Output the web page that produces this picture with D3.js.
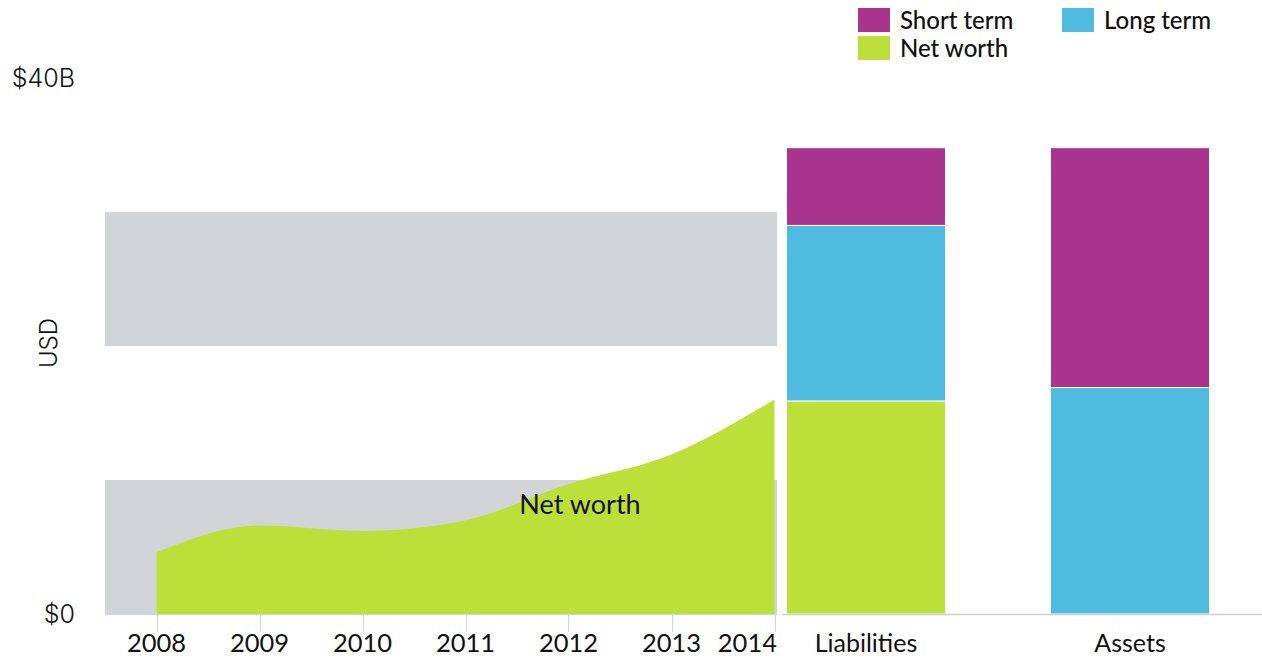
<!DOCTYPE html>
<html>
<head>
<meta charset="utf-8">
<script src="https://cdn.jsdelivr.net/npm/d3@7"></script>
<style>
  html, body { margin: 0; padding: 0; background: #ffffff; }
  svg { display: block; font-family: "Lato", "Noto Sans", sans-serif; }
</style>
</head>
<body>
<svg id="chart" width="1262" height="661"></svg>
<script>
// ---------- data ----------
const years = [2008, 2009, 2010, 2011, 2012, 2013, 2014];
const netWorthHistory = [4.6, 6.6, 6.2, 7.0, 9.7, 11.9, 16.0];
const bandRanges = [[0, 10], [20, 30]];
const barCategories = ["Liabilities", "Assets"];
const seriesNames = ["Net worth", "Long term", "Short term"];
const liabilitiesValues = [15.9, 13.1, 5.8];   // net worth, long term, short term
const assetsValues = [0, 16.9, 17.9];          // net worth, long term, short term
const yTicks = [0, 40];
const yTickLabels = ["$0", "$40B"];
const legendItems = ["Short term", "Long term", "Net worth"];

// ---------- styles ----------
const colors = { "Short term": "#a9348e", "Long term": "#4fbbdf", "Net worth": "#bddf3a" };
const bandColor = "#d1d5d8";
const axisColor = "#ccd6eb";

const svg = d3.select("#chart");

const y = d3.scaleLinear().domain([0, 40]).range([614, 78]);

// left area chart
const xYear = d3.scaleLinear().domain([2008, 2014]).range([156.5, 774.5]);
const leftX0 = 105, leftX1 = 777;

// plot bands
svg.append("g").selectAll("rect").data(bandRanges).join("rect")
  .attr("x", leftX0).attr("width", leftX1 - leftX0)
  .attr("y", d => y(d[1])).attr("height", d => y(d[0]) - y(d[1]))
  .attr("fill", bandColor);

// area
const area = d3.area()
  .x((d, i) => xYear(years[i]))
  .y0(y(0))
  .y1(d => y(d))
  .curve(d3.curveMonotoneX);
svg.append("path").datum(netWorthHistory)
  .attr("d", area).attr("fill", colors["Net worth"]);

// x axis for years
const xAxisG = svg.append("g").attr("transform", `translate(0,${y(0)})`);
xAxisG.append("line").attr("x1", leftX0).attr("x2", leftX1).attr("y1", 0.5).attr("y2", 0.5)
  .attr("stroke", axisColor).attr("stroke-width", 1);
xAxisG.selectAll("line.tick").data(years).join("line").attr("class", "tick")
  .attr("x1", d => Math.round(xYear(d)) + 0.5).attr("x2", d => Math.round(xYear(d)) + 0.5)
  .attr("y1", 0).attr("y2", 18).attr("stroke", axisColor);
const lastYear = years[years.length - 1];
xAxisG.selectAll("text").data(years).join("text")
  .attr("x", d => d === lastYear ? leftX1 : xYear(d)).attr("y", 38)
  .attr("text-anchor", d => d === lastYear ? "end" : "middle")
  .attr("font-size", 25.5).attr("fill", "#111")
  .text(d => d);

// Net worth label
svg.append("text").attr("x", 580).attr("y", 514).attr("text-anchor", "middle")
  .attr("font-size", 27).attr("fill", "#111").text("Net worth");

// y axis labels
svg.append("g").selectAll("text").data(yTicks).join("text")
  .attr("x", 75).attr("y", d => y(d) + 9)
  .attr("text-anchor", "end").attr("font-size", 25).attr("fill", "#111")
  .attr("font-family", "Inter, sans-serif").attr("font-weight", 300)
  .text((d, i) => yTickLabels[i]);

svg.append("text").attr("transform", "translate(57,343) rotate(-90)")
  .attr("text-anchor", "middle").attr("font-size", 24).attr("fill", "#111")
  .attr("font-family", "Inter, sans-serif").attr("font-weight", 300).text("USD");

// right bar chart
const xCat = d3.scaleBand().domain(barCategories).range([734, 1262]).paddingInner(0.398).paddingOuter(0.199);
const barData = [liabilitiesValues, assetsValues];
const stacked = barCategories.map((c, ci) => {
  let acc = 0;
  return seriesNames.map((s, si) => {
    const v = barData[ci][si];
    const seg = { cat: c, name: s, y0: acc, y1: acc + v };
    acc += v;
    return seg;
  }).filter(d => d.y1 > d.y0);
}).flat();

const barW = 159;
svg.append("g").selectAll("rect").data(stacked).join("rect")
  .attr("x", d => xCat(d.cat) + xCat.bandwidth() / 2 - barW / 2)
  .attr("width", barW)
  .attr("y", d => y(d.y1)).attr("height", d => y(d.y0) - y(d.y1))
  .attr("fill", d => colors[d.name])
  .attr("stroke", "#ffffff").attr("stroke-width", 1);

svg.append("line").attr("x1", 782).attr("x2", 1262).attr("y1", y(0) + 0.5).attr("y2", y(0) + 0.5)
  .attr("stroke", "#d0d0d0").attr("stroke-width", 1.5);

svg.append("g").selectAll("text").data(barCategories).join("text")
  .attr("x", d => xCat(d) + xCat.bandwidth() / 2).attr("y", y(0) + 38)
  .attr("text-anchor", "middle").attr("font-size", 25).attr("fill", "#111")
  .text(d => d);

// legend
const legendPos = [[858, 8], [1062, 8], [858, 36]];
const lg = svg.append("g").selectAll("g").data(legendItems).join("g")
  .attr("transform", (d, i) => `translate(${legendPos[i][0]},${legendPos[i][1]})`);
lg.append("rect").attr("width", 32).attr("height", 24).attr("fill", d => colors[d]);
lg.append("text").attr("x", 42).attr("y", 21).attr("font-size", 24).attr("font-weight", 500)
  .attr("fill", "#111").text(d => d);
</script>
</body>
</html>
